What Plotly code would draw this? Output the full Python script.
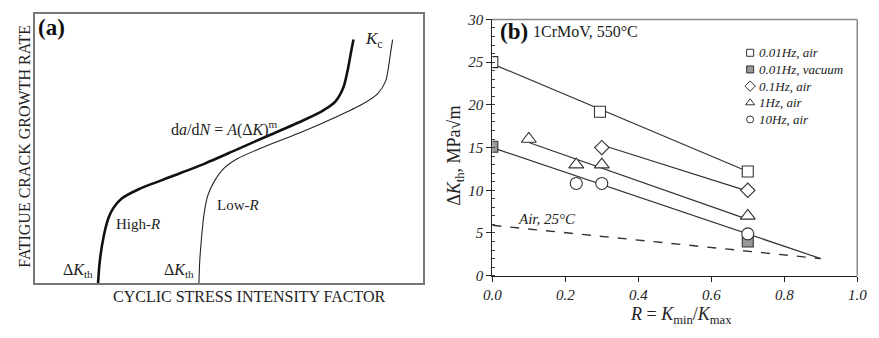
import plotly.graph_objects as go

# ---------------- Panel (a): schematic curves (arbitrary 0-100 units) ----------------
high_r_x = [16.16, 16.59, 17.6, 18.9, 20.1, 22.2, 26.8, 35.3, 43.7, 52.1, 60.5, 68.9, 74.0, 77.4, 79.5, 80.7, 81.6, 82.1]
high_r_y = [0, 7.9, 17.3, 24.4, 27.9, 31.4, 35.0, 39.7, 44.4, 49.7, 55.0, 60.3, 63.9, 67.4, 72.7, 79.8, 86.8, 90.4]
low_r_x = [42.2, 42.4, 42.9, 43.5, 44.5, 46.2, 48.7, 52.1, 60.5, 68.9, 77.3, 84.1, 88.3, 90.4, 91.2, 91.8, 92.2]
low_r_y = [0, 7.9, 17.3, 25.5, 32.6, 37.9, 42.7, 46.2, 51.5, 56.2, 61.5, 66.2, 70.3, 75.0, 80.9, 86.8, 90.4]

# ---------------- Panel (b): threshold data ----------------
sq_air_R = [0.0, 0.295, 0.7]
sq_air_K = [25.0, 19.2, 12.2]
sq_vac_R = [0.0, 0.7]
sq_vac_K = [15.1, 4.0]
dia_R = [0.3, 0.7]
dia_K = [15.0, 10.0]
tri_R = [0.1, 0.23, 0.3, 0.7]
tri_K = [16.0, 13.0, 13.0, 7.0]
cir_R = [0.23, 0.3, 0.7]
cir_K = [10.8, 10.8, 4.9]

# fitted lines
fit_air001_R = [0.0, 0.7]
fit_air001_K = [24.8, 12.2]
fit_01_R = [0.3, 0.7]
fit_01_K = [15.3, 9.9]
fit_1_R = [0.1, 0.7]
fit_1_K = [15.6, 6.6]
fit_10_R = [0.0, 0.9]
fit_10_K = [15.0, 2.0]
room_R = [0.0, 0.9]
room_K = [5.9, 2.0]

x_ticks = [0.0, 0.2, 0.4, 0.6, 0.8, 1.0]
x_tick_labels = ["0.0", "0.2", "0.4", "0.6", "0.8", "1.0"]
y_ticks = [0, 5, 10, 15, 20, 25, 30]

legend_names = ["0.01Hz, air", "0.01Hz, vacuum", "0.1Hz, air", "1Hz, air", "10Hz, air"]

SERIF = "Liberation Serif"
W, H = 879, 338


def px(x):
    return x / W


def py(y):
    return 1 - y / H


fig = go.Figure()

# panel (a) curves
fig.add_trace(go.Scatter(x=high_r_x, y=high_r_y, mode="lines",
                         line=dict(color="#111", width=2.6, shape="spline", smoothing=0.7),
                         xaxis="x", yaxis="y", showlegend=False, hoverinfo="skip"))
fig.add_trace(go.Scatter(x=low_r_x, y=low_r_y, mode="lines",
                         line=dict(color="#222", width=1.1, shape="spline", smoothing=0.7),
                         xaxis="x", yaxis="y", showlegend=False, hoverinfo="skip"))

# panel (b) lines
line_style = dict(color="#333", width=1.2)
for rx, ky in [(fit_air001_R, fit_air001_K), (fit_01_R, fit_01_K), (fit_1_R, fit_1_K), (fit_10_R, fit_10_K)]:
    fig.add_trace(go.Scatter(x=rx, y=ky, mode="lines", line=line_style, xaxis="x2", yaxis="y2",
                             showlegend=False, hoverinfo="skip"))
fig.add_trace(go.Scatter(x=room_R, y=room_K, mode="lines", line=dict(color="#333", width=1.4, dash="dash"),
                         xaxis="x2", yaxis="y2", showlegend=False, hoverinfo="skip"))

mk_line = dict(color="#333", width=1.1)
series = [
    (sq_air_R, sq_air_K, "square", "white", 11, 7),
    (sq_vac_R, sq_vac_K, "square", "#999", 11, 7),
    (dia_R, dia_K, "diamond", "white", 11, 8),
    (tri_R, tri_K, "triangle-up", "white", 13, 8),
    (cir_R, cir_K, "circle", "white", 12, 7),
]
for name, (rx, ky, sym, fill, size, lsize) in zip(legend_names, series):
    fig.add_trace(go.Scatter(x=rx, y=ky, mode="markers", name=name, xaxis="x2", yaxis="y2",
                             showlegend=False,
                             marker=dict(symbol=sym, size=size, color=fill, line=mk_line)))

# manual legend (hidden axes x3/y3)
for i, (name, (rx, ky, sym, fill, size, lsize)) in enumerate(zip(legend_names, series)):
    fig.add_trace(go.Scatter(x=[0], y=[i], mode="markers", xaxis="x3", yaxis="y3", showlegend=False,
                             hoverinfo="skip",
                             marker=dict(symbol=sym, size=lsize, color=fill, line=dict(color="#333", width=1))))

hidden = dict(visible=False, showgrid=False, zeroline=False, fixedrange=True)

fig.update_layout(
    width=W, height=H,
    margin=dict(l=0, r=0, t=0, b=0),
    paper_bgcolor="white", plot_bgcolor="white",
    font=dict(family=SERIF, color="#222"),
    showlegend=False,
    xaxis=dict(domain=[px(27), px(423)], range=[0, 100], showticklabels=False, ticks="",
               showgrid=False, zeroline=False, showline=True, mirror=True, linecolor="#777", linewidth=1.5),
    yaxis=dict(domain=[py(289), py(6)], range=[0, 100], showticklabels=False, ticks="",
               showgrid=False, zeroline=False, showline=True, mirror=True, linecolor="#777", linewidth=1.5),
    xaxis2=dict(domain=[px(494), px(867)], range=[0, 1.0], tickvals=x_ticks, ticktext=x_tick_labels,
                ticks="outside", ticklen=5, tickcolor="#222", showgrid=False, zeroline=False,
                showline=True, linecolor="#222", linewidth=1.2, anchor="y2",
                tickfont=dict(family=SERIF, size=15, style="italic", color="#222")),
    yaxis2=dict(domain=[py(281), py(12)], range=[0, 30], tickvals=y_ticks,
                ticks="outside", ticklen=5, tickcolor="#222", showgrid=False, zeroline=False,
                showline=True, linecolor="#222", linewidth=1.2, anchor="x2",
                minor=dict(dtick=1, ticks="inside", ticklen=3, tickcolor="#444"),
                tickfont=dict(family=SERIF, size=15, style="italic", color="#222")),
    xaxis3=dict(domain=[px(751), px(764)], range=[-1, 1], anchor="y3", **hidden),
    yaxis3=dict(domain=[py(125.75), py(38.25)], range=[4.5, -0.5], anchor="x3", **hidden),
)

# gray frame top/right for panel (b)
fig.add_shape(type="line", xref="paper", yref="paper", x0=px(494), x1=px(867), y0=py(12), y1=py(12),
              line=dict(color="#888", width=1.5))
fig.add_shape(type="line", xref="paper", yref="paper", x0=px(867), x1=px(867), y0=py(12), y1=py(281),
              line=dict(color="#888", width=1.5))


def A(**kw):
    base = dict(showarrow=False, xanchor="center", yanchor="middle")
    base.update(kw)
    return base


ann = []
# panel (a) texts
ann.append(A(xref="paper", yref="paper", x=px(43), y=py(20), text="<b>(a)</b>",
             font=dict(family=SERIF, size=23, color="#111")))
ann.append(A(xref="paper", yref="paper", x=px(362), y=py(34), text="<i>K</i><sub>c</sub>", xanchor="left",
             font=dict(family=SERIF, size=17, color="#222")))
ann.append(A(xref="paper", yref="paper", x=px(220), y=py(126),
             text="d<i>a</i>/d<i>N</i> = <i>A</i>(Δ<i>K</i>)<sup>m</sup>",
             font=dict(family=SERIF, size=16, color="#222")))
ann.append(A(xref="paper", yref="paper", x=px(107), y=py(227), text="High-<i>R</i>", xanchor="left",
             font=dict(family=SERIF, size=15, color="#222")))
ann.append(A(xref="paper", yref="paper", x=px(211), y=py(207), text="Low-<i>R</i>", xanchor="left",
             font=dict(family=SERIF, size=15, color="#222")))
ann.append(A(xref="paper", yref="paper", x=px(88), y=py(276), text="Δ<i>K</i><sub>th</sub>", xanchor="right",
             font=dict(family=SERIF, size=16, color="#222")))
ann.append(A(xref="paper", yref="paper", x=px(191), y=py(276), text="Δ<i>K</i><sub>th</sub>", xanchor="right",
             font=dict(family=SERIF, size=16, color="#222")))
ann.append(A(xref="paper", yref="paper", x=px(246), y=py(303), text="CYCLIC STRESS INTENSITY FACTOR",
             font=dict(family=SERIF, size=16, color="#222")))
ann.append(A(xref="paper", yref="paper", x=px(15), y=py(145), text="FATIGUE CRACK GROWTH RATE", textangle=-90,
             font=dict(family=SERIF, size=16, color="#222")))

# panel (b) texts
ann.append(A(xref="paper", yref="paper", x=px(516), y=py(25), text="<b>(b)</b>",
             font=dict(family=SERIF, size=23, color="#111")))
ann.append(A(xref="paper", yref="paper", x=px(534), y=py(25), text="1CrMoV, 550°C", xanchor="left",
             font=dict(family=SERIF, size=16, color="#222")))
ann.append(A(xref="x2", yref="y2", x=0.066, y=6.6, text="<i>Air, 25°C</i>", xanchor="left",
             font=dict(family=SERIF, size=15, color="#222")))
ann.append(A(xref="paper", yref="paper", x=px(457), y=py(155), text="Δ<i>K</i><sub>th</sub>, MPa√m", textangle=-90,
             font=dict(family=SERIF, size=18, color="#222")))
ann.append(A(xref="paper", yref="paper", x=px(687), y=py(323),
             text="<i>R</i> = <i>K</i><sub>min</sub>/<i>K</i><sub>max</sub>",
             font=dict(family=SERIF, size=18, color="#222")))
# legend texts
for i, name in enumerate(legend_names):
    ann.append(A(xref="paper", yref="y3", x=px(765), y=i, text="<i>" + name + "</i>", xanchor="left",
                 font=dict(family=SERIF, size=13, color="#222")))

fig.update_layout(annotations=ann)

fig.write_html("out.html")
